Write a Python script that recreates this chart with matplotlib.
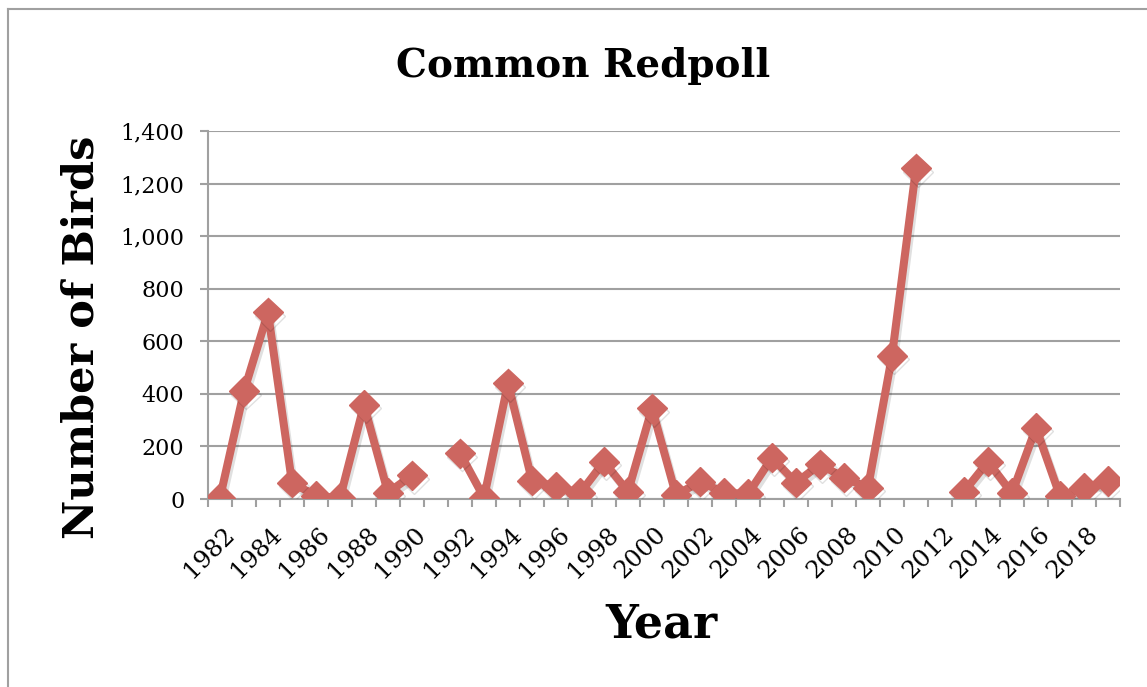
import numpy as np
import matplotlib
matplotlib.use("Agg")
import matplotlib.pyplot as plt
import matplotlib.patheffects as pe
from matplotlib.ticker import FuncFormatter, FixedLocator, NullFormatter

years = list(range(1982, 2020))
birds = [5, 410, 710, 62, 12, 3, 358, 24, 90, np.nan,
         174, 5, 440, 70, 47, 22, 142, 28, 345, 15,
         66, 24, 19, 157, 62, 132, 81, 43, 544, 1258,
         np.nan, 28, 142, 22, 271, 11, 41, 68]
title = "Common Redpoll"
xlabel = "Year"
ylabel = "Number of Birds"

serif = ["DejaVu Serif", "Liberation Serif"]
plt.rcParams["font.family"] = serif

fig = plt.figure(figsize=(11.47, 6.87), dpi=100)
ax = fig.add_axes([208/1147, 1-499/687, 912/1147, 368/687])

x = np.arange(len(years))
ax.plot(x, birds, color="#CD6660", lw=5.8, marker="D", markersize=15,
        markeredgecolor="#CD6660", zorder=3,
        path_effects=[pe.SimpleLineShadow(offset=(1.5, -2.5), alpha=0.12, shadow_color="k"), pe.Normal()])

ax.set_xlim(-0.5, len(years) - 0.5)
ax.set_ylim(0, 1400)
ax.set_yticks(range(0, 1401, 200))
ax.yaxis.set_major_formatter(FuncFormatter(lambda v, p: f"{int(v):,}"))
ax.grid(axis="y", color="#A0A0A0", lw=1.5)
ax.set_axisbelow(True)

for s in ["top", "right"]:
    ax.spines[s].set_visible(False)
ax.spines["left"].set_color("#A0A0A0")
ax.spines["left"].set_linewidth(1.5)
ax.spines["bottom"].set_color("#A0A0A0")
ax.spines["bottom"].set_linewidth(1.5)

ax.tick_params(axis="y", length=6, width=1.5, color="#A0A0A0", labelsize=16, pad=11)
ax.xaxis.set_major_locator(FixedLocator(np.arange(-0.5, len(years) + 0.5, 1)))
ax.xaxis.set_major_formatter(NullFormatter())
ax.tick_params(axis="x", length=6, width=1.5, color="#A0A0A0")
ax.set_xticks(x[::2] + 0.1, minor=True)
ax.set_xticklabels([str(y) for y in years[::2]], minor=True, rotation=45,
                   ha="right", rotation_mode="anchor", fontsize=17.5)
ax.tick_params(axis="x", which="minor", length=0, pad=17)

fig.text(583/1147, 1-66/687, title, ha="center", va="center", fontsize=28, fontweight="bold")
fig.text(82/1147, 1-337/687, ylabel, ha="center", va="center", rotation=90, fontsize=31, fontweight="bold")
fig.text(661/1147, 1-625/687, xlabel, ha="center", va="center", fontsize=33, fontweight="bold")

# outer frame
fig.add_artist(plt.Line2D([8/1147, 8/1147], [0, 1-9/687], transform=fig.transFigure, color="#A0A0A0", lw=1.5))
fig.add_artist(plt.Line2D([8/1147, 1], [1-9/687, 1-9/687], transform=fig.transFigure, color="#A0A0A0", lw=1.5))

fig.savefig("out.png", dpi=100)
